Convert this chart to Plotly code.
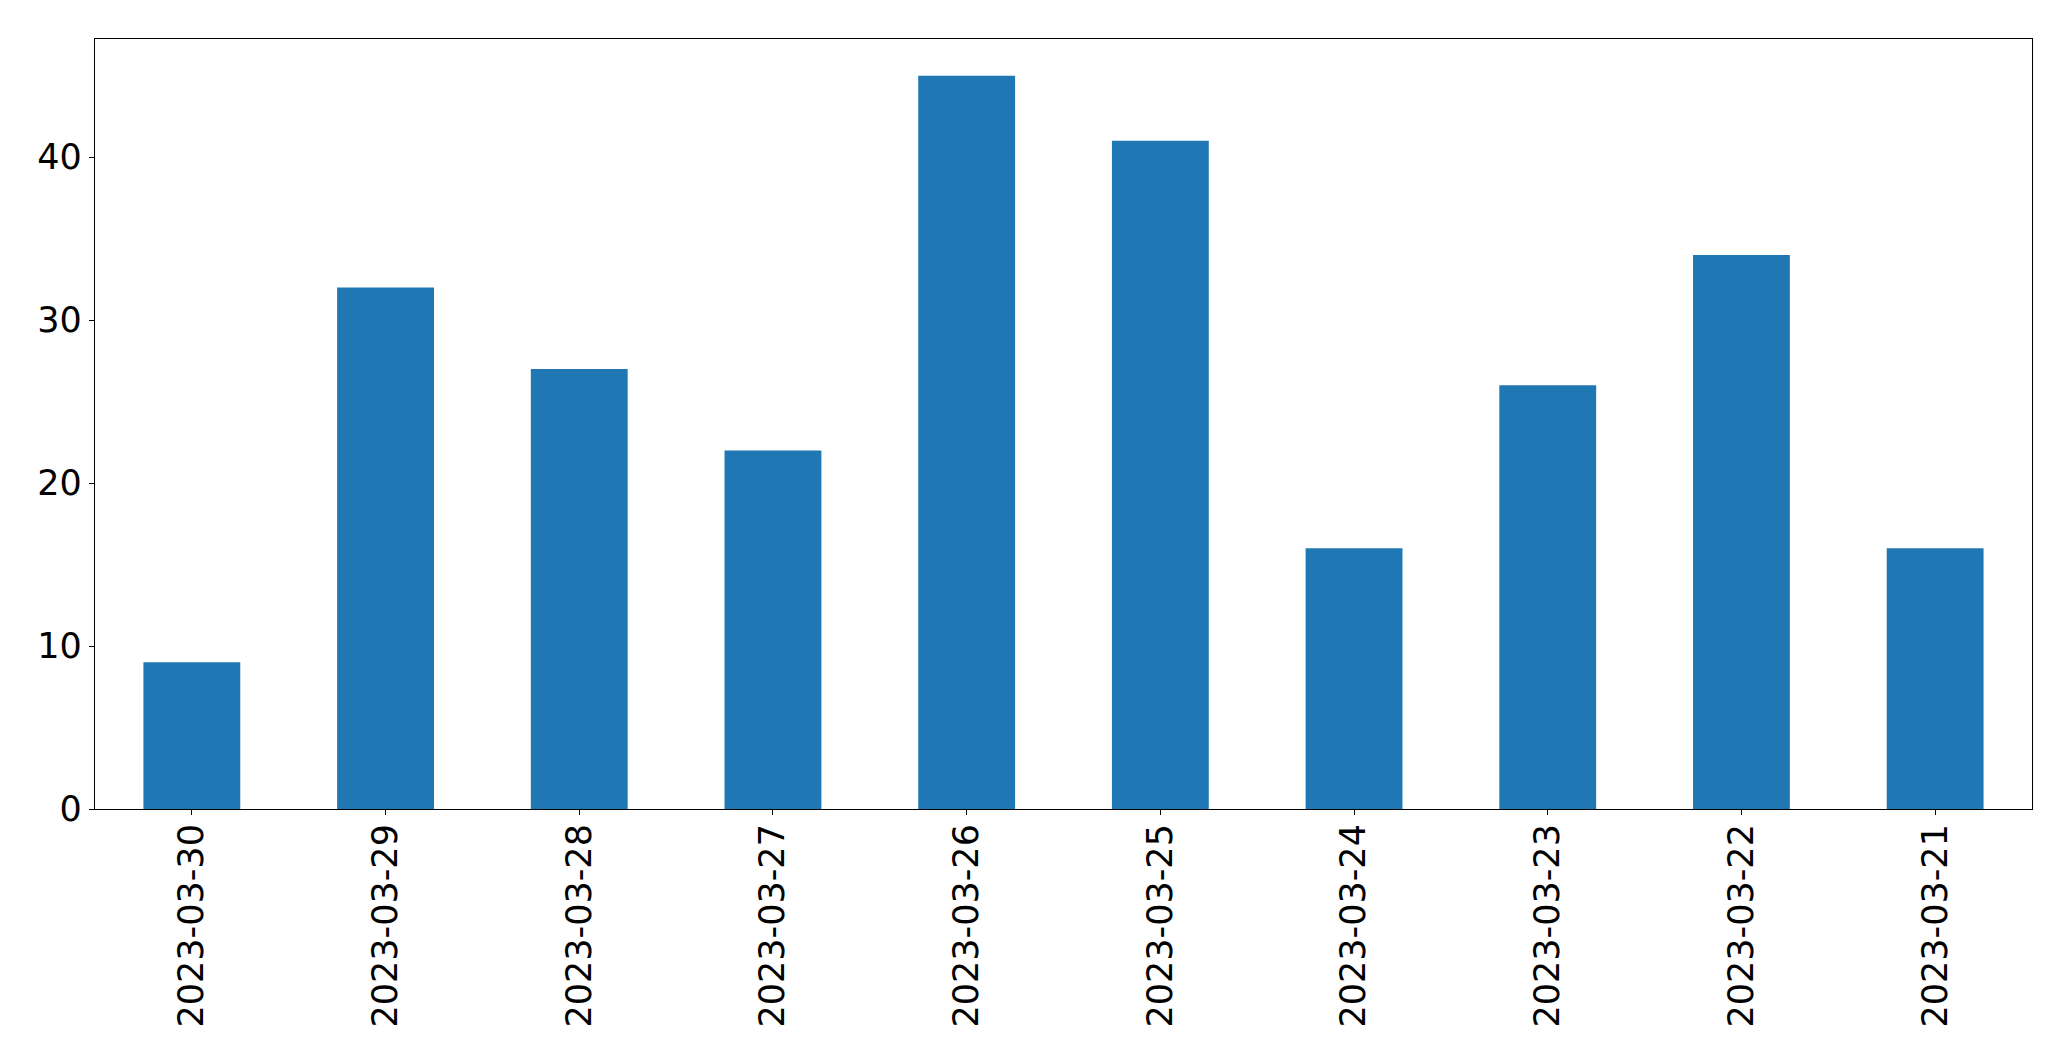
import plotly.graph_objects as go

dates = ["2023-03-30", "2023-03-29", "2023-03-28", "2023-03-27", "2023-03-26",
         "2023-03-25", "2023-03-24", "2023-03-23", "2023-03-22", "2023-03-21"]
counts = [9, 32, 27, 22, 45, 41, 16, 26, 34, 16]
y_ticks = [0, 10, 20, 30, 40]

fig = go.Figure(go.Bar(x=dates, y=counts, width=0.5, marker_color="#1f77b4",
                       marker_line_width=0))

axis_common = dict(showline=True, linecolor="black", linewidth=1.2, mirror=True,
                   ticks="outside", ticklen=5, tickwidth=1.1, tickcolor="black",
                   showgrid=False, zeroline=False,
                   tickfont=dict(family="DejaVu Sans", size=35, color="black"))

fig.update_xaxes(type="category", range=[-0.5, 9.5], tickangle=-90,
                 ticklabelstandoff=-5, **axis_common)
fig.update_yaxes(range=[0, 47.25], tickvals=y_ticks, **axis_common)

# page body has an 8px default margin, so the figure is offset by 8px
fig.update_layout(width=2063, height=1053, plot_bgcolor="white", paper_bgcolor="white",
                  margin=dict(l=87, r=39, t=31, b=252), showlegend=False)

fig.write_html("out.html")
